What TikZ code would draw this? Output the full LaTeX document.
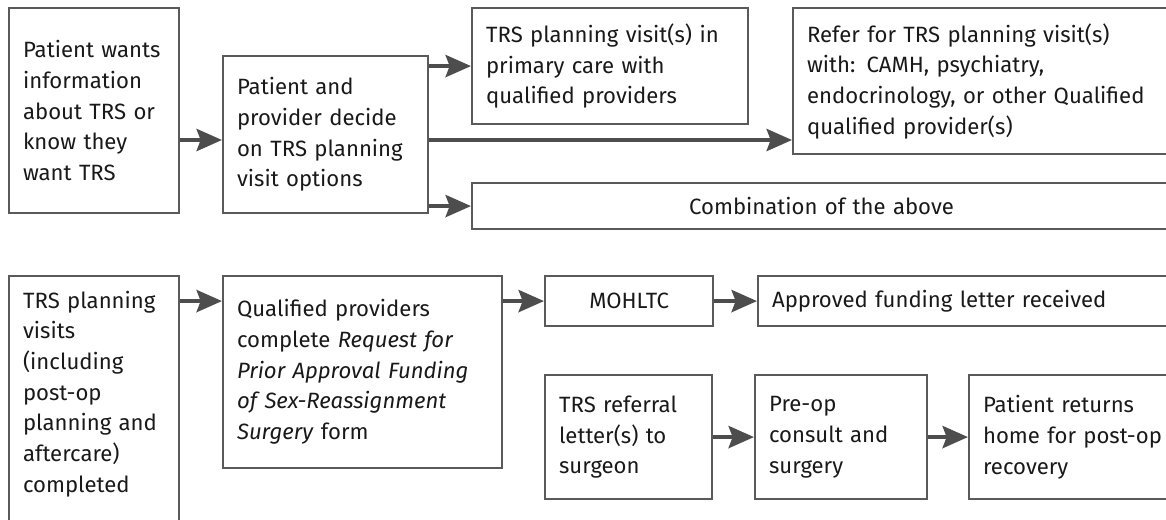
\documentclass[tikz,border=0pt]{standalone}
\usepackage{fontspec}
\setmainfont{Fira Sans}
\usetikzlibrary{positioning, arrows.meta}

\definecolor{boxgray}{RGB}{90,90,90}
\definecolor{arrowgray}{RGB}{77,77,77}
\definecolor{txt}{RGB}{25,25,25}

\tikzset{
	stepbox/.style={draw=boxgray, line width=1.6pt, inner xsep=10.5pt, align=left,
		text=txt, font=\fontsize{16.6}{23}\selectfont, anchor=north west},
	flow/.style={draw=arrowgray, line width=3.2pt,
		-{Stealth[length=19pt, width=16.5pt, inset=3pt]}}
}

\begin{document}
\begin{tikzpicture}[x=0.75pt, y=-0.75pt]
	\useasboundingbox (0,0) rectangle (1166,519);
	\clip (0,0) rectangle (1166,519);

	% choosing the planning visits
	\node[stepbox, text width=106.5pt, minimum height=153.75pt] (want) at (8,7)
		{Patient wants\\information\\about TRS or\\know they\\want TRS};
	\node[stepbox, text width=132.75pt, minimum height=117.75pt,
		right=31.4pt of want.south east, anchor=south west] (decide)
		{Patient and\\provider decide\\on TRS planning\\visit options};
	\node[stepbox, text width=186pt, minimum height=87pt] (primary) at (471,7)
		{TRS planning visit(s) in\\primary care with\\qualified providers};
	\node[stepbox, text width=275pt, minimum height=109.5pt,
		right=32.15pt of primary.north east, anchor=north west] (refer)
		{Refer for TRS planning visit(s)\\with: CAMH, psychiatry,\\endocrinology, or other Qualified\\qualified provider(s)};
	\node[stepbox, text width=503.25pt, align=center, minimum height=34.5pt] (combo) at (471,182)
		{Combination of the above};

	% funding and surgery
	\node[stepbox, text width=106.5pt, inner ysep=11pt, text depth=160pt] (visits) at (8,275)
		{TRS planning\\visits\\(including\\post-op\\planning and\\aftercare)\\completed};
	\node[stepbox, text width=188.25pt, minimum height=144pt,
		right=31.4pt of visits.north east, anchor=north west] (request)
		{Qualified providers\\complete \textit{Request for}\\\textit{Prior Approval Funding}\\\textit{of Sex-Reassignment}\\\textit{Surgery} form};
	\node[stepbox, text width=105pt, align=center, minimum height=37.5pt,
		right=30.65pt of request.north east, anchor=north west] (mohltc) {MOHLTC};
	\node[stepbox, text width=300pt, minimum height=37.5pt, right=32.15pt of mohltc] (approved)
		{Approved funding letter received};
	\node[stepbox, text width=104.25pt, minimum height=93pt,
		below=35.15pt of mohltc.south west, anchor=north west] (referral)
		{TRS referral\\letter(s) to\\surgeon};
	\node[stepbox, text width=108pt, minimum height=93pt, right=30.65pt of referral] (preop)
		{Pre-op\\consult and\\surgery};
	\node[stepbox, text width=141pt, minimum height=93pt, right=29.9pt of preop] (home)
		{Patient returns\\home for post-op\\recovery};

	\coordinate (mid) at (0,140);
	\draw[flow] (want.east |- mid) -- (decide.west |- mid);
	\draw[flow] (decide.east |- primary.west) -- (primary.west);
	\draw[flow] (decide.east |- mid) -- (refer.west |- mid);
	\draw[flow] (decide.east |- combo.west) -- (combo.west);
	\draw[flow] (visits.east |- mohltc.west) -- (request.west |- mohltc.west);
	\draw[flow] (request.east |- mohltc.west) -- (mohltc.west);
	\draw[flow] (mohltc) -- (approved);
	\draw[flow] (referral) -- (preop);
	\draw[flow] (preop) -- (home);
\end{tikzpicture}
\end{document}
